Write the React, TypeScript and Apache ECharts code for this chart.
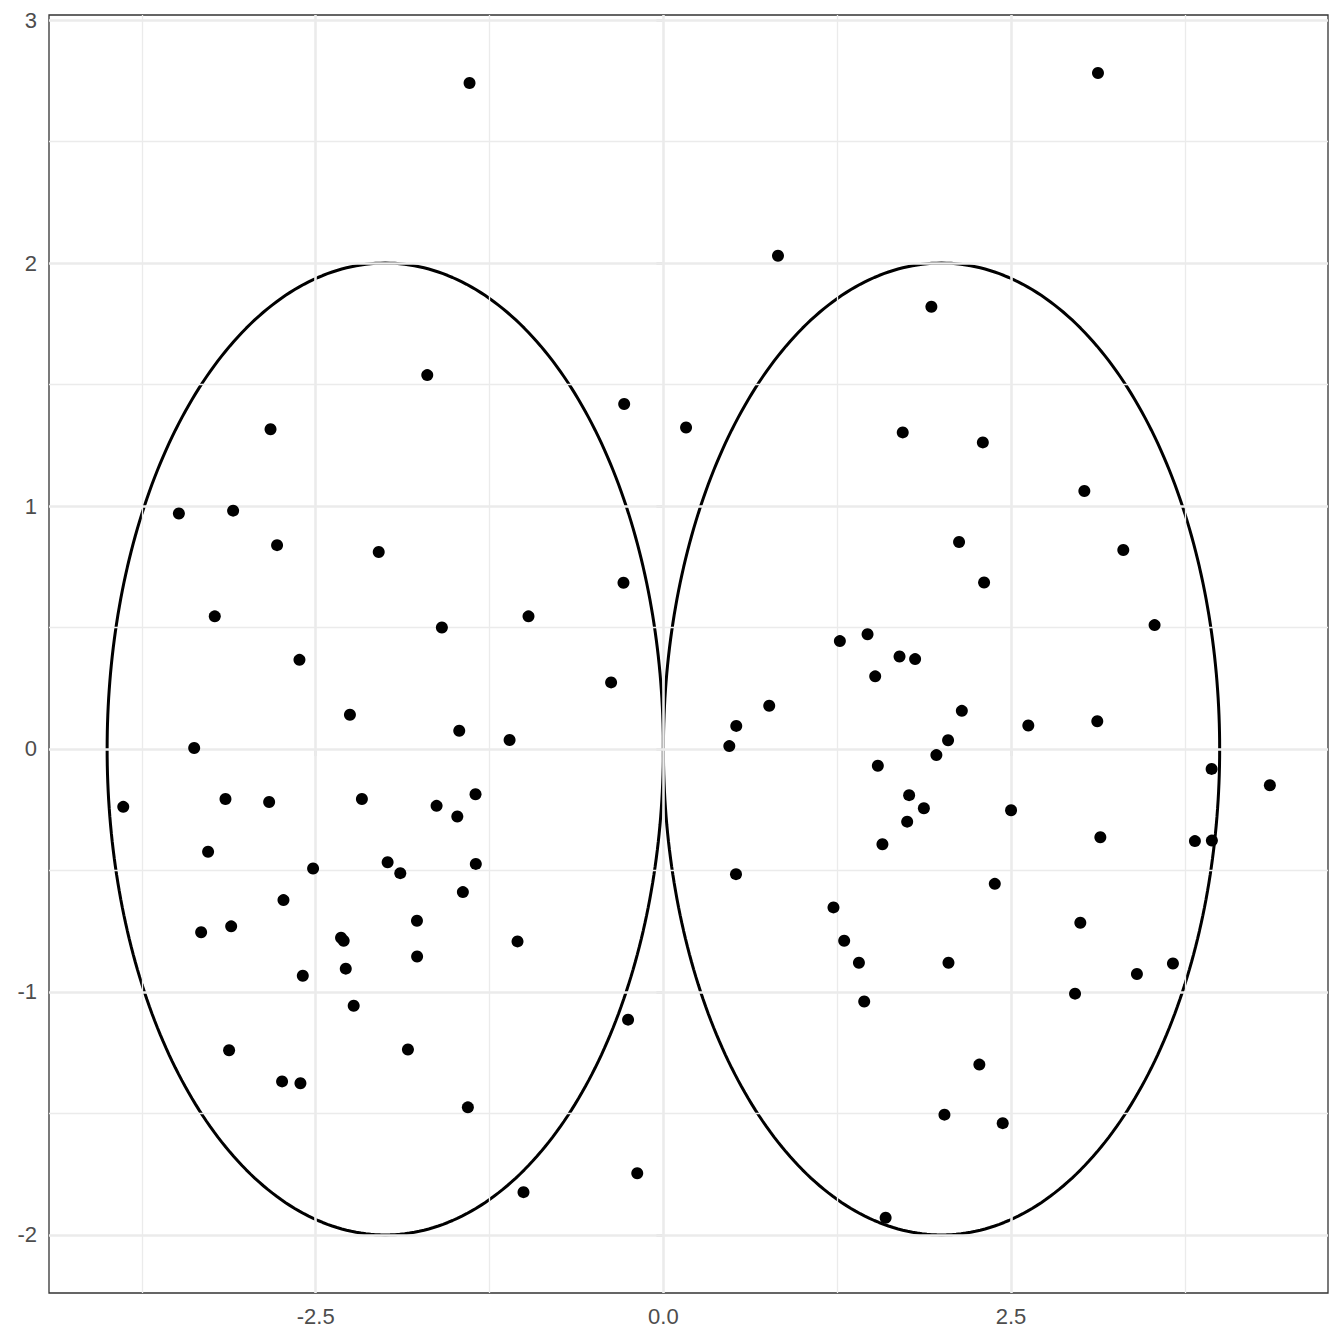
import React, { useEffect, useRef } from "react";
import * as echarts from "echarts";

// Scatter points
const xValues = [
  -1.394, 3.125, 0.824, 1.927, -1.698, -0.282, -2.825, 0.163, 1.721, 2.297,
  3.027, -3.484, -3.094, -2.778, -2.047, 2.126, 3.307, -0.287, 2.306, -3.226,
  -0.97, -1.593, 3.532, 1.269, 1.468, -2.617, 1.698, 1.81, 1.523, -0.376,
  0.761, -2.254, 2.146, 3.12, 2.624, 0.524, -1.468, -1.106, 2.047, -3.374,
  0.474, 1.963, 1.542, 3.942, 4.361, -3.884, -3.149, -2.835, -2.168, -1.351,
  -1.631, -1.482, 1.767, 1.873, 2.5, 1.753, 3.142, -3.274, 1.575, 3.822,
  3.944, -1.983, -1.349, -2.519, -1.892, 0.522, 2.383, -1.442, -2.732, 1.223,
  -1.772, 2.998, -3.324, -3.108, -2.318, -2.299, -1.049, 1.3, -1.771, -2.284,
  1.406, 2.05, 3.664, -2.593, 3.405, 2.96, 1.444, -2.227, -0.254, -3.123,
  -1.837, 2.272, -2.742, -2.61, -1.406, 2.021, 2.44, -0.188, -1.006, 1.598,
];
const yValues = [
  2.741, 2.782, 2.03, 1.82, 1.539, 1.42, 1.316, 1.323, 1.303, 1.262,
  1.062, 0.969, 0.981, 0.839, 0.811, 0.852, 0.819, 0.684, 0.685, 0.546,
  0.546, 0.5, 0.51, 0.444, 0.472, 0.367, 0.381, 0.37, 0.299, 0.274,
  0.178, 0.141, 0.157, 0.114, 0.097, 0.095, 0.075, 0.037, 0.036, 0.004,
  0.012, -0.025, -0.069, -0.082, -0.149, -0.238, -0.206, -0.218, -0.206, -0.186,
  -0.234, -0.278, -0.19, -0.244, -0.252, -0.299, -0.363, -0.423, -0.392, -0.379,
  -0.377, -0.466, -0.473, -0.492, -0.511, -0.515, -0.555, -0.589, -0.622, -0.652,
  -0.707, -0.715, -0.754, -0.73, -0.777, -0.789, -0.792, -0.789, -0.854, -0.904,
  -0.88, -0.88, -0.883, -0.933, -0.926, -1.007, -1.039, -1.057, -1.114, -1.24,
  -1.237, -1.299, -1.368, -1.376, -1.475, -1.505, -1.54, -1.746, -1.824, -1.929,
];

// Circles (in data units) drawn on the plot
const circleCentersX = [-2, 2];
const circleCentersY = [0, 0];
const circleRadii = [2, 2];

// Axis ticks / gridlines
const xMajorTicks = [-2.5, 0, 2.5];
const xMinorTicks = [-3.75, -1.25, 1.25, 3.75];
const yMajorTicks = [-2, -1, 0, 1, 2, 3];
const yMinorTicks = [-1.5, -0.5, 0.5, 1.5, 2.5];

const xMin = -4.418;
const xMax = 4.779;
const yMin = -2.239;
const yMax = 3.021;

function circlePath(cx: number, cy: number, r: number): number[][] {
  const pts: number[][] = [];
  const n = 360;
  for (let i = 0; i <= n; i++) {
    const t = (i / n) * Math.PI * 2;
    pts.push([cx + r * Math.cos(t), cy + r * Math.sin(t)]);
  }
  return pts;
}

export default function App() {
  const ref = useRef<HTMLDivElement>(null);

  useEffect(() => {
    if (!ref.current) return;
    const chart = echarts.init(ref.current, undefined, { renderer: "svg" });

    const textStyle = {
      color: "#4D4D4D",
      fontSize: 22,
      fontFamily: "Liberation Sans, Arial, sans-serif",
    };

    const gridLineSeries = (values: number[], axis: "xAxis" | "yAxis", width: number) => ({
      type: "scatter",
      data: [],
      z: 1,
      silent: true,
      markLine: {
        silent: true,
        symbol: ["none", "none"],
        label: { show: false },
        animation: false,
        lineStyle: { color: "#EBEBEB", width, type: "solid" },
        emphasis: { disabled: true },
        data: values.map((v) => ({ [axis]: v })),
      },
    });

    const circles = circleCentersX.map((cx, i) => ({
      type: "line",
      data: circlePath(cx, circleCentersY[i], circleRadii[i]),
      showSymbol: false,
      symbol: "none",
      smooth: false,
      silent: true,
      z: 3,
      lineStyle: { color: "#000000", width: 3 },
    }));

    chart.setOption({
      animation: false,
      backgroundColor: "#FFFFFF",
      grid: {
        left: 49,
        right: 16,
        top: 15,
        bottom: 51,
        show: true,
        borderColor: "#333333",
        borderWidth: 1.3,
        backgroundColor: "#FFFFFF",
        z: 0,
      },
      xAxis: {
        type: "value",
        min: xMin,
        max: xMax,
        splitLine: { show: false },
        axisLine: { show: false },
        axisTick: {
          show: true,
          length: 7,
          lineStyle: { color: "#333333", width: 1.3 },
          customValues: xMajorTicks,
        },
        axisLabel: {
          ...textStyle,
          margin: 12,
          customValues: xMajorTicks,
          formatter: (v: number) => v.toFixed(1),
        },
      },
      yAxis: {
        type: "value",
        min: yMin,
        max: yMax,
        splitLine: { show: false },
        axisLine: { show: false },
        axisTick: {
          show: true,
          length: 7,
          lineStyle: { color: "#333333", width: 1.3 },
          customValues: yMajorTicks,
        },
        axisLabel: {
          ...textStyle,
          margin: 12,
          customValues: yMajorTicks,
          formatter: (v: number) => String(Math.round(v)),
        },
      },
      series: [
        gridLineSeries(xMinorTicks, "xAxis", 1.3),
        gridLineSeries(yMinorTicks, "yAxis", 1.3),
        gridLineSeries(xMajorTicks, "xAxis", 2.6),
        gridLineSeries(yMajorTicks, "yAxis", 2.6),
        ...circles,
        {
          type: "scatter",
          data: xValues.map((x, i) => [x, yValues[i]]),
          symbol: "circle",
          symbolSize: 12,
          z: 5,
          itemStyle: { color: "#000000", opacity: 1 },
        },
      ],
    });

    return () => chart.dispose();
  }, []);

  return (
    <div
      ref={ref}
      style={{ position: "absolute", left: 0, top: 0, width: 1344, height: 1344 }}
    />
  );
}
